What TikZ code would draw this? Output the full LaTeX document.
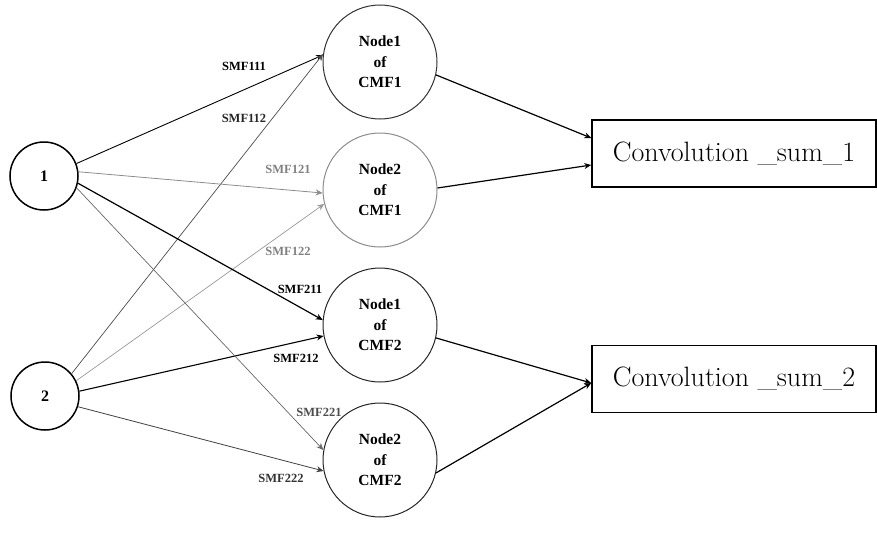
\documentclass[tikz,border=0pt]{standalone}
\usepackage{fontspec}
\setmainfont{Liberation Serif}
\newfontfamily\boxfont{Latin Modern Roman}
\usetikzlibrary{arrows.meta}

\begin{document}
\begin{tikzpicture}[x=1pt,y=-1pt,
  inp/.style={circle,draw,line width=1.5pt,minimum size=68pt,inner sep=0pt,
    font=\fontsize{16}{18}\selectfont\bfseries},
  cmf/.style={circle,draw,line width=1pt,minimum size=114pt,inner sep=0pt,
    align=center,font=\fontsize{15.5}{20.5}\selectfont\bfseries},
  sumbox/.style={rectangle,draw,line width=1.5pt,minimum width=284pt,
    minimum height=67pt,inner sep=0pt,font=\boxfont\fontsize{28}{30}\selectfont},
  wt/.style={-{Stealth[length=7pt,width=6pt]}},
  lbl/.style={font=\fontsize{12.5}{13}\selectfont\bfseries,inner sep=0pt},
]
\useasboundingbox (0,0) rectangle (877,538);

% input nodes
\node[inp] (n1) at (44,176) {1};
\node[inp] (n2) at (45,396) {2};

% convolution membership function nodes
\node[cmf,draw=black!80] (c11) at (380,62)  {Node1\\of\\CMF1};
\node[cmf,draw=black!45] (c21) at (380,190) {Node2\\of\\CMF1};
\node[cmf,draw=black!85] (c12) at (380,325) {Node1\\of\\CMF2};
\node[cmf,draw=black!85] (c22) at (380,460) {Node2\\of\\CMF2};

% sums
\node[sumbox] (s1) at (734,153.5) {Convolution \_sum\_1};
\node[sumbox] (s2) at (734,379)   {Convolution \_sum\_2};

% weighted connections
\draw[wt,black,line width=0.9pt]   (n1.21)  -- (c11.173);
\draw[wt,black!70,line width=0.7pt] (n2.40)  -- (c11.172);
\draw[wt,black!45,line width=0.8pt] (n1.7)   -- (c21.183);
\draw[wt,black!40,line width=0.7pt] (n2.26)  -- (c21.194);
\draw[wt,black,line width=1.2pt]   (n1.-12) -- (c12.175);
\draw[wt,black,line width=1.1pt]   (n2.8)   -- (c12.191);
\draw[wt,black!60,line width=0.7pt] (n1.-20) -- (c22.170);
\draw[wt,black!75,line width=0.8pt] (n2.-18) -- (c22.191);

% connection labels
\node[lbl,black]    (l111) at (244,66)  {SMF111};
\node[lbl,black!85] (l112) at (244,118) {SMF112};
\node[lbl,black!50] (l121) at (288,169) {SMF121};
\node[lbl,black!50] (l122) at (288,251) {SMF122};
\node[lbl,black]    (l211) at (300,289) {SMF211};
\node[lbl,black]    (l212) at (296,358) {SMF212};
\node[lbl,black!70] (l221) at (319,412) {SMF221};
\node[lbl,black!80] (l222) at (281,478) {SMF222};

% outputs into the sums
\draw[wt,line width=1.2pt] (c11.-13) -- ([yshift=15.5pt]s1.west);
\draw[wt,line width=1.2pt] (c21.2)   -- ([yshift=-11.5pt]s1.west);
\draw[wt,line width=1.2pt] (c12.-13) -- ([yshift=-4pt]s2.west);
\draw[wt,line width=1.2pt] (c22.-13) -- ([yshift=-4pt]s2.west);
\end{tikzpicture}
\end{document}
